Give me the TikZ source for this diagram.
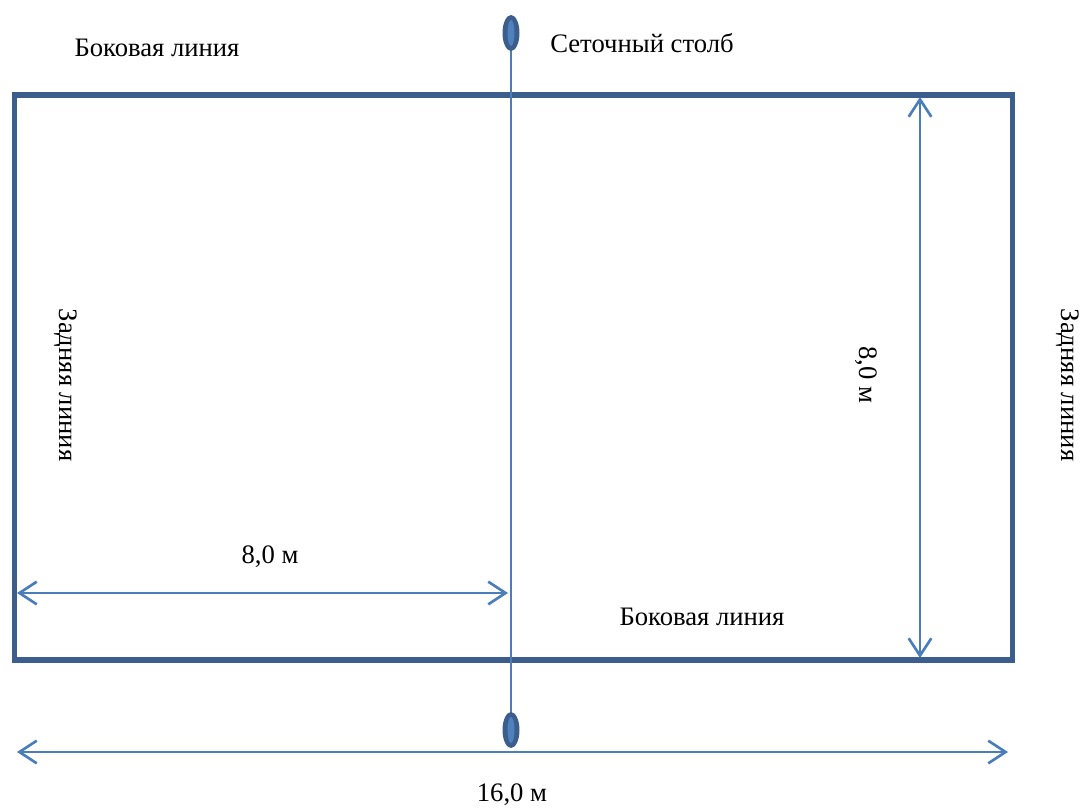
\documentclass[tikz,border=0pt]{standalone}
\usepackage{fontspec}
\setmainfont{Liberation Serif}
\usetikzlibrary{arrows.meta}
\definecolor{frameblue}{HTML}{3B5E8C}
\definecolor{lineblue}{HTML}{4A7EBB}
\definecolor{postin}{HTML}{4F81BD}
\begin{document}
\begin{tikzpicture}[x=0.75pt,y=-0.75pt,
  court/.style={draw=frameblue,line width=3.8pt},
  netline/.style={draw=lineblue,line width=1.5pt},
  dimarrow/.style={draw=lineblue,line width=2pt,{Straight Barb[length=13pt,width=17pt,line width=2pt]}-{Straight Barb[length=13pt,width=17pt,line width=2pt]}},
  lbl/.style={font=\fontsize{20}{24}\selectfont,inner sep=0pt}]
\useasboundingbox (0,0) rectangle (1081,811);
\draw[court] (14.5,95) rectangle (1012.5,660);
\coordinate (ntop) at (511,33);
\coordinate (nbot) at (511,730);
\draw[netline] (ntop) -- (nbot);
\foreach \p in {ntop,nbot}{
  \fill[frameblue] (\p) ellipse [x radius=8.5, y radius=18];
  \fill[postin] (\p) ellipse [x radius=3.5, y radius=13];
}
\coordinate (hl) at (17,593);
\coordinate (hr) at (508,593);
\draw[dimarrow] (hl) -- (hr);
\coordinate (vt) at (920,97);
\coordinate (vb) at (920,658);
\draw[dimarrow] (vt) -- (vb);
\coordinate (bl) at (17,752);
\coordinate (br) at (1008,752);
\draw[dimarrow] (bl) -- (br);
\node[lbl] (s1) at (157,48) {Боковая линия};
\node[lbl] (pl) at (642,43) {Сеточный столб};
\node[lbl] (d1) at (270,557) {8,0 м};
\node[lbl] (s2) at (702,617) {Боковая линия};
\node[lbl] (d3) at (512,795) {16,0 м};
\node[lbl,rotate=-90] (d2) at (866,375) {8,0 м};
\node[lbl,rotate=-90] (b1) at (66,385) {Задняя линия};
\node[lbl,rotate=-90] (b2) at (1068,385) {Задняя линия};
\end{tikzpicture}
\end{document}
